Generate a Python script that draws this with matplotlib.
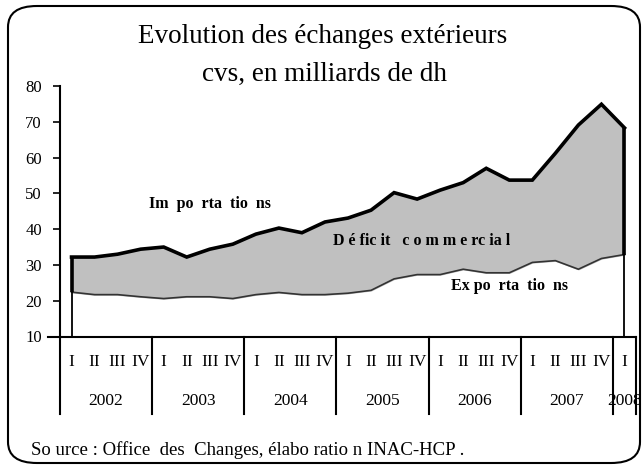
import matplotlib.pyplot as plt
from matplotlib.patches import FancyBboxPatch

plt.rcParams['font.family'] = ['Liberation Serif', 'DejaVu Serif']

# Quarterly data, 2002 Q1 - 2008 Q1, billions of dh (cvs)
years = ['2002', '2003', '2004', '2005', '2006', '2007', '2008']
quarters = ['I', 'II', 'III', 'IV']
importations = [32.2, 32.2, 33.0, 34.4,
                35.0, 32.2, 34.4, 35.8,
                38.6, 40.3, 39.0, 42.0,
                43.1, 45.3, 50.2, 48.4,
                50.9, 53.0, 57.0, 53.7,
                53.7, 61.2, 69.1, 74.9,
                68.3]
exportations = [22.4, 21.7, 21.7, 21.1,
                20.6, 21.1, 21.1, 20.6,
                21.7, 22.3, 21.7, 21.7,
                22.1, 22.9, 26.1, 27.3,
                27.3, 28.8, 27.8, 27.8,
                30.7, 31.2, 28.8, 31.8,
                32.9]

n = len(importations)
x = list(range(n))
q_labels = [quarters[i % 4] for i in x]
ymin = 10

fig = plt.figure(figsize=(6.43, 4.68), dpi=100)

# rounded outer frame
frame = FancyBboxPatch((8 / 643, 5 / 468), 632 / 643, 457 / 468,
                       boxstyle='round,pad=0,rounding_size=0.045',
                       transform=fig.transFigure, fill=False,
                       edgecolor='black', linewidth=1.5, clip_on=False)
fig.patches.append(frame)

ax = fig.add_axes([60 / 643, (468 - 336.5) / 468, 576 / 643, 250.5 / 468])

ax.fill_between(x, ymin, exportations, color='white', zorder=1)
ax.fill_between(x, exportations, importations, color='#c0c0c0', zorder=1)
ax.plot(x, exportations, color='#333333', linewidth=1.2, zorder=3)
ax.plot(x, importations, color='black', linewidth=2.6, zorder=4,
        solid_joinstyle='miter')
# edges of the areas
for i in (0, n - 1):
    ax.vlines(x[i], exportations[i], importations[i], color='black',
              linewidth=2.6, zorder=4)
    ax.vlines(x[i], ymin, exportations[i], color='black',
              linewidth=1.3, zorder=4)

ax.set_xlim(-0.5, n - 0.5)
ax.set_ylim(ymin, 80)
ax.set_yticks(range(10, 81, 10))
ax.tick_params(axis='y', direction='out', length=5, width=1.2, pad=8,
               labelsize=12)
ax.tick_params(axis='x', bottom=False, labelbottom=False)
for s in ('top', 'right'):
    ax.spines[s].set_visible(False)
ax.spines['left'].set_linewidth(1.5)
ax.spines['bottom'].set_linewidth(1.5)
ax.spines['bottom'].set_bounds(-1.0, n - 0.5)

# category table under the axis
tr = ax.get_xaxis_transform()
low = -(414 - 336.5) / 250.5
for k in range(len(years) + 1):
    xs = min(k * 4, n) - 0.5
    ax.plot([xs, xs], [0, low], transform=tr, color='black',
            linewidth=1.5, clip_on=False)
for i in x:
    ax.text(i, -(362 - 336.5) / 250.5, q_labels[i], transform=tr,
            ha='center', va='center', fontsize=12.5)
for k, yr in enumerate(years):
    xc = min(k * 4 + 1.5, n - 1)
    ax.text(xc, -(401 - 336.5) / 250.5, yr, transform=tr,
            ha='center', va='center', fontsize=12.5)

# series labels
ax.text(6, 47, 'Im  po  rta  tio  ns', fontsize=11.5, fontweight='bold',
        ha='center', va='center')
ax.text(15.2, 36.6, 'D é fic it   c o m m e rc ia l', fontsize=11.5,
        fontweight='bold', ha='center', va='center')
ax.text(19.0, 24.2, 'Ex po  rta  tio  ns', fontsize=11.5, fontweight='bold',
        ha='center', va='center')

fig.text(323 / 643, 1 - 43 / 468, 'Evolution des échanges extérieurs',
         ha='center', va='baseline', fontsize=19.5)
fig.text(324 / 643, 1 - 81 / 468, 'cvs, en milliards de dh',
         ha='center', va='baseline', fontsize=19.5)
fig.text(31 / 643, 1 - 450 / 468,
         'So urce : Office  des  Changes, élabo ratio n INAC-HCP .',
         ha='left', va='center', fontsize=13.5)

fig.savefig('out.png', dpi=100)
